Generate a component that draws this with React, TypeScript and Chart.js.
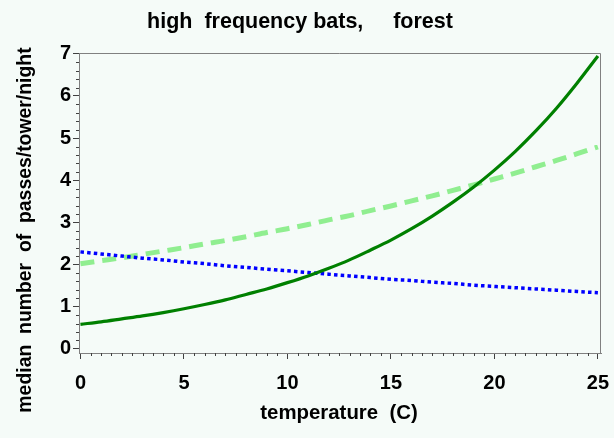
import { useEffect, useRef } from "react";
import { Chart, registerables } from "chart.js";

Chart.register(...registerables);

// ---- data ----
const temperature = [0, 1, 2, 3, 4, 5, 6, 7, 8, 9, 10, 11, 12, 13, 14, 15, 16, 17, 18, 19, 20, 21, 22, 23, 24, 25];
const solidSeries = [0.58, 0.64, 0.71, 0.78, 0.86, 0.95, 1.05, 1.16, 1.29, 1.42, 1.57, 1.73, 1.91, 2.11, 2.34, 2.58, 2.85, 3.15, 3.48, 3.84, 4.24, 4.68, 5.17, 5.71, 6.31, 6.95];
const dashedSeries = [2.02, 2.09, 2.16, 2.24, 2.32, 2.4, 2.49, 2.57, 2.66, 2.76, 2.85, 2.95, 3.06, 3.16, 3.28, 3.39, 3.51, 3.63, 3.76, 3.89, 4.03, 4.17, 4.32, 4.47, 4.63, 4.79];
const dottedSeries = [2.3, 2.25, 2.2, 2.15, 2.11, 2.06, 2.02, 1.97, 1.93, 1.89, 1.85, 1.81, 1.77, 1.73, 1.69, 1.65, 1.62, 1.58, 1.55, 1.51, 1.48, 1.45, 1.42, 1.39, 1.36, 1.33];
const xTickValues = [0, 5, 10, 15, 20, 25];
const yTickValues = [0, 1, 2, 3, 4, 5, 6, 7];
const titleText = "high  frequency bats,     forest";
const xTitleText = "temperature  (C)";
const yTitleText = "median  number  of  passes/tower/night";

const FONT = "'Liberation Sans', Arial, sans-serif";
const BG = "#f5fbf8";

const decorPlugin = {
  id: "decor",
  beforeDraw(chart: any) {
    const ctx = chart.ctx;
    ctx.save();
    ctx.fillStyle = BG;
    ctx.fillRect(0, 0, chart.width, chart.height);
    ctx.restore();
  },
  afterDraw(chart: any) {
    const ctx = chart.ctx;
    const { left, right, top, bottom } = chart.chartArea;
    const xs = chart.scales.x;
    const ys = chart.scales.y;
    ctx.save();
    // frame top & right
    ctx.strokeStyle = "#808080";
    ctx.lineWidth = 1;
    ctx.beginPath();
    ctx.moveTo(left, top + 0.5);
    ctx.lineTo(right - 0.5, top + 0.5);
    ctx.lineTo(right - 0.5, bottom);
    ctx.stroke();
    // minor ticks
    ctx.strokeStyle = "#404040";
    ctx.beginPath();
    for (let i = 0; i <= 50; i++) {
      if (i % 10 === 0) continue;
      const px = Math.round(xs.getPixelForValue(i * 0.5)) + 0.5;
      ctx.moveTo(px, bottom);
      ctx.lineTo(px, bottom + 3);
    }
    for (let i = 0; i <= 35; i++) {
      if (i % 5 === 0) continue;
      const py = Math.round(ys.getPixelForValue(i * 0.2)) + 0.5;
      ctx.moveTo(left, py);
      ctx.lineTo(left - 3, py);
    }
    ctx.stroke();
    // titles
    ctx.fillStyle = "#000";
    ctx.textAlign = "center";
    ctx.textBaseline = "alphabetic";
    ctx.font = `bold 21.5px ${FONT}`;
    ctx.fillText(titleText, 300, 28);
    ctx.font = `bold 20.4px ${FONT}`;
    ctx.fillText(xTitleText, 339, 419);
    ctx.font = `bold 19.4px ${FONT}`;
    ctx.translate(31, 230);
    ctx.rotate(-Math.PI / 2);
    ctx.fillText(yTitleText, 0, 0);
    ctx.restore();
  },
};

export default function App() {
  const ref = useRef<HTMLCanvasElement | null>(null);
  useEffect(() => {
    document.body.style.margin = "0";
    const canvas = ref.current!;
    const chart = new Chart(canvas, {
      type: "line",
      data: {
        datasets: [
          {
            label: "solid",
            data: temperature.map((t, i) => ({ x: t, y: solidSeries[i] })),
            borderColor: "#008000",
            borderWidth: 3.2,
            pointRadius: 0,
            cubicInterpolationMode: "monotone",
          },
          {
            label: "dotted",
            data: temperature.map((t, i) => ({ x: t, y: dottedSeries[i] })),
            borderColor: "#0000ff",
            borderWidth: 3.5,
            borderDash: [3.5, 3.2],
            pointRadius: 0,
            cubicInterpolationMode: "monotone",
          },
          {
            label: "dashed",
            data: temperature.map((t, i) => ({ x: t, y: dashedSeries[i] })),
            borderColor: "#90ee90",
            borderWidth: 5,
            borderDash: [14, 8],
            pointRadius: 0,
            cubicInterpolationMode: "monotone",
          },
        ],
      },
      options: {
        animation: false,
        responsive: false,
        maintainAspectRatio: false,
        layout: { padding: { left: 0, right: 13, top: 53, bottom: 0 } },
        plugins: { legend: { display: false }, title: { display: false }, tooltip: { enabled: false } },
        scales: {
          x: {
            type: "linear",
            min: -0.07,
            max: 25.15,
            afterBuildTicks: (s: any) => {
              s.ticks = xTickValues.map((v) => ({ value: v }));
            },
            afterFit: (s: any) => {
              s.height = 85;
              s.paddingLeft = 0;
              s.paddingRight = 0;
            },
            ticks: {
              color: "#000",
              font: { family: FONT, size: 20, weight: "bold" },
              padding: 12,
              maxRotation: 0,
              autoSkip: false,
            },
            grid: { drawOnChartArea: false, tickLength: 6, color: "#404040" },
            border: { color: "#808080", width: 1 },
          },
          y: {
            type: "linear",
            min: -0.1,
            max: 7.02,
            afterBuildTicks: (s: any) => {
              s.ticks = yTickValues.map((v) => ({ value: v }));
            },
            afterFit: (s: any) => {
              s.width = 79;
              s.paddingTop = 0;
              s.paddingBottom = 0;
            },
            ticks: {
              color: "#000",
              font: { family: FONT, size: 20, weight: "bold" },
              padding: 2,
              autoSkip: false,
            },
            grid: { drawOnChartArea: false, tickLength: 6, color: "#404040" },
            border: { color: "#808080", width: 1 },
          },
        },
      },
      plugins: [decorPlugin],
    });
    return () => chart.destroy();
  }, []);
  return (
    <div style={{ position: "absolute", left: 0, top: 0, width: 614, height: 438 }}>
      <canvas ref={ref} width={614} height={438} style={{ width: 614, height: 438 }} />
    </div>
  );
}
